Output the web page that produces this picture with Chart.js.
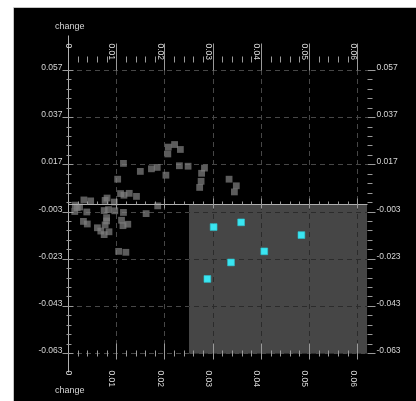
<!DOCTYPE html>
<html>
<head>
<meta charset="utf-8">
<script src="https://cdn.jsdelivr.net/npm/chart.js@4"></script>
<style>
  body { margin: 0; background: #fff; }
  canvas { display: block; }
</style>
</head>
<body>
<canvas id="chart" width="416" height="401"></canvas>
<script>
// Axis ticks
const xTicks = [0, 0.01, 0.02, 0.03, 0.04, 0.05, 0.06];
const xTickLabels = ['0', '0.01', '0.02', '0.03', '0.04', '0.05', '0.06'];
const yTicks = [0.057, 0.037, 0.017, -0.003, -0.023, -0.043, -0.063];
const yTickLabels = ['0.057', '0.037', '0.017', '-0.003', '-0.023', '-0.043', '-0.063'];
const axisTitle = 'change';
const xRange = [0, 0.062];
const yRange = [-0.063, 0.057];

// Shaded quadrant (x above threshold, y below zero)
const shadeX = [0.025, 0.062];
const shadeY = [-0.063, 0];

// Points outside the quadrant
const grayX = [0.0208, 0.0221, 0.0233, 0.0207, 0.0115, 0.0150, 0.0173, 0.0185, 0.0203, 0.0231,
               0.0249, 0.0283, 0.0277, 0.0276, 0.0273, 0.0334, 0.0349, 0.0345, 0.0103, 0.0109,
               0.0116, 0.0127, 0.0142, 0.0186, 0.0162, 0.0115, 0.0033, 0.0047, 0.0015, 0.0019,
               0.0024, 0.0014, 0.0039, 0.0032, 0.0040, 0.0061, 0.0068, 0.0077, 0.0080, 0.0075,
               0.0085, 0.0077, 0.0081, 0.0075, 0.0084, 0.0096, 0.0097, 0.0111, 0.0114, 0.0124,
               0.0105, 0.0120, 0.0080];
const grayY = [0.0243, 0.0254, 0.0233, 0.0214, 0.0174, 0.0140, 0.0151, 0.0157, 0.0124, 0.0164,
               0.0162, 0.0154, 0.0132, 0.0098, 0.0072, 0.0107, 0.0079, 0.0053, 0.0107, 0.0046,
               0.0039, 0.0047, 0.0034, -0.0006, -0.0039, -0.0034, 0.0019, 0.0015, -0.0003, -0.0014,
               -0.0011, -0.0030, -0.0032, -0.0072, -0.0083, -0.0099, -0.0113, -0.0087, -0.0070, -0.0128,
               -0.0116, 0.0017, 0.0027, -0.0026, -0.0022, 0.0010, -0.0027, -0.0067, -0.0090, -0.0084,
               -0.0199, -0.0203, -0.0056];

// Points inside the quadrant
const cyanX = [0.0302, 0.0359, 0.0484, 0.0407, 0.0338, 0.0289];
const cyanY = [-0.0096, -0.0076, -0.0130, -0.0199, -0.0246, -0.0316];

const ctxEl = document.getElementById('chart').getContext('2d');

function toPoints(xs, ys) {
    return xs.map((x, i) => ({ x: x, y: ys[i] }));
}

function line(ctx, x1, y1, x2, y2) {
    ctx.beginPath();
    ctx.moveTo(x1, y1);
    ctx.lineTo(x2, y2);
    ctx.stroke();
}

function drawGrid(ctx, X, Y, color) {
    ctx.save();
    ctx.strokeStyle = color;
    ctx.lineWidth = 1;
    ctx.setLineDash([5, 4]);
    const top = Y(yRange[1]), bottom = Y(yRange[0]);
    const left = X(xRange[0]), right = X(xRange[1]);
    xTicks.forEach(v => {
        if (v === 0) return;
        const px = Math.round(X(v)) + 0.5;
        line(ctx, px, top, px, bottom);
    });
    yTicks.forEach(v => {
        const py = Math.round(Y(v)) + 0.5;
        line(ctx, left, py, right, py);
    });
    ctx.restore();
}

const frame = {
    id: 'frame',
    beforeDraw(chart) {
        const ctx = chart.ctx;
        ctx.save();
        ctx.fillStyle = '#fff';
        ctx.fillRect(0, 0, chart.width, chart.height);
        ctx.fillStyle = '#000';
        ctx.fillRect(14, 8, chart.width - 14, chart.height - 8);
        ctx.strokeStyle = '#c4c4c4';
        line(ctx, 13.5, 7.5, 13.5, chart.height);
        line(ctx, 13.5, 7.5, chart.width, 7.5);
        ctx.restore();
    },
    beforeDatasetsDraw(chart) {
        const ctx = chart.ctx;
        const X = v => chart.scales.x.getPixelForValue(v);
        const Y = v => chart.scales.y.getPixelForValue(v);
        drawGrid(ctx, X, Y, '#474747');
        // shaded quadrant
        const sx = Math.round(X(shadeX[0])), ex = Math.round(X(shadeX[1]));
        const sy = Math.round(Y(shadeY[1])), ey = Math.round(Y(shadeY[0]));
        ctx.save();
        ctx.fillStyle = '#464646';
        ctx.fillRect(sx, sy, ex - sx, ey - sy + 1);
        ctx.beginPath();
        ctx.rect(sx, sy, ex - sx, ey - sy + 1);
        ctx.clip();
        drawGrid(ctx, X, Y, '#2b2b2b');
        ctx.restore();
    },
    afterDatasetsDraw(chart) {
        const ctx = chart.ctx;
        const X = v => chart.scales.x.getPixelForValue(v);
        const Y = v => chart.scales.y.getPixelForValue(v);
        const x0 = Math.round(X(0)) + 0.5;
        const xr = Math.round(X(xRange[1])) + 0.5;
        const y0 = Math.round(Y(0)) + 0.5;
        const yt = Math.round(Y(yRange[1])) + 0.5;
        const yb = Math.round(Y(yRange[0])) + 0.5;
        ctx.save();
        ctx.lineWidth = 1;
        // axis lines through zero
        ctx.strokeStyle = '#b0b0b0';
        line(ctx, x0, yt - 35, x0, yb + 19);
        line(ctx, x0, y0, xr, y0);

        // minor ticks
        ctx.strokeStyle = '#9a9a9a';
        for (let i = 1; i <= 30; i++) {
            if (i % 5 === 0) continue;
            const px = Math.round(X(i * 0.002)) + 0.5;
            line(ctx, px, yt - 14, px, yt - 8);
            line(ctx, px, yb - 3, px, yb + 3);
            line(ctx, px, y0 - 3, px, y0);
        }
        for (let i = 0; i <= 30; i++) {
            if (i % 5 === 0) continue;
            const py = Math.round(Y(yRange[0] + i * 0.004)) + 0.5;
            line(ctx, x0 - 2, py, x0 + 3, py);
            line(ctx, xr, py, xr + 5, py);
        }
        // major ticks
        xTicks.forEach(v => {
            if (v === 0) return;
            const px = Math.round(X(v)) + 0.5;
            line(ctx, px, yt - 27, px, yt);
            line(ctx, px, yb - 10, px, yb + 6);
            line(ctx, px, y0 - 6, px, y0 + 4);
        });
        yTicks.forEach(v => {
            const py = Math.round(Y(v)) + 0.5;
            line(ctx, x0 - 6, py, x0 + 5, py);
            line(ctx, xr, py, xr + 8, py);
        });

        // labels
        ctx.fillStyle = '#d6d6d6';
        ctx.font = '8.5px "Liberation Sans", Arial, sans-serif';
        ctx.textBaseline = 'alphabetic';
        ctx.textAlign = 'right';
        yTicks.forEach((v, i) => ctx.fillText(yTickLabels[i], x0 - 6, Math.round(Y(v))));
        ctx.textAlign = 'left';
        yTicks.forEach((v, i) => ctx.fillText(yTickLabels[i], xr + 9, Math.round(Y(v))));
        ctx.textBaseline = 'middle';
        xTicks.forEach((v, i) => {
            const px = v === 0 ? X(v) : X(v) - 4.5;
            [yt - 27, yb + 17].forEach(py => {
                ctx.save();
                ctx.translate(px, py);
                ctx.rotate(Math.PI / 2);
                ctx.fillText(xTickLabels[i], 0, 0);
                ctx.restore();
            });
        });
        ctx.font = '9px "Liberation Sans", Arial, sans-serif';
        ctx.textBaseline = 'alphabetic';
        ctx.fillText(axisTitle, 55, 29);
        ctx.fillText(axisTitle, 55, 393);
        ctx.restore();
    }
};

new Chart(ctxEl, {
    type: 'scatter',
    data: {
        datasets: [
            {
                data: toPoints(grayX, grayY),
                pointStyle: 'rect',
                pointRadius: 4.8,
                backgroundColor: 'rgba(128,128,128,0.72)',
                borderWidth: 0
            },
            {
                data: toPoints(cyanX, cyanY),
                pointStyle: 'rect',
                pointRadius: 4.8,
                backgroundColor: '#3ae6f2',
                borderColor: '#2cc4cf',
                borderWidth: 0.6
            }
        ]
    },
    options: {
        responsive: false,
        animation: false,
        layout: { padding: { left: 68, top: 70, right: 49, bottom: 48 } },
        plugins: { legend: { display: false }, tooltip: { enabled: false } },
        scales: {
            x: { type: 'linear', display: false, min: xRange[0], max: xRange[1] },
            y: { type: 'linear', display: false, min: yRange[0], max: yRange[1] }
        }
    },
    plugins: [frame]
});
</script>
</body>
</html>
